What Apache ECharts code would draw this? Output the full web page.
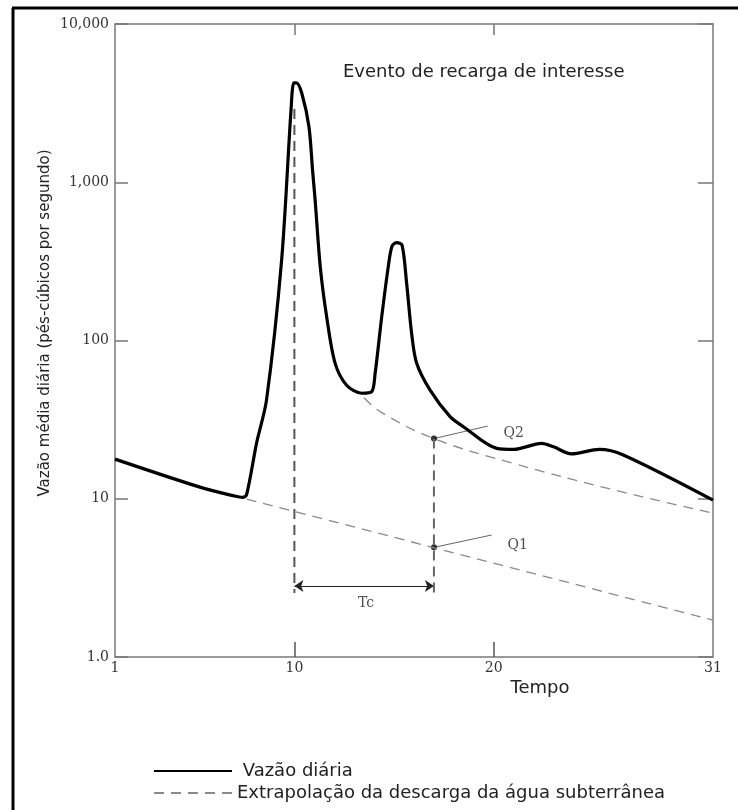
<!DOCTYPE html>
<html>
<head>
<meta charset="utf-8">
<script src="https://cdn.jsdelivr.net/npm/echarts@6/dist/echarts.min.js"></script>
<style>
  html, body { margin: 0; padding: 0; background: #fff; }
  #chart { width: 738px; height: 810px; }
</style>
</head>
<body>
<div id="chart"></div>
<script>
// hidrograma: vazão diária (pés-cúbicos/s) x tempo (dias)
const flowDays = [1, 5.3, 7.0, 7.4, 7.6, 8.1, 8.6, 9.36, 9.83, 9.97, 10.1, 10.37, 10.73, 10.91, 11.04, 11.3, 11.62, 12.04, 12.63, 13.38, 13.88, 14.05, 14.38, 14.71, 14.9, 15.13, 15.4, 15.63, 15.88, 16.13, 16.8, 17.81, 18.48, 20.15, 21.0, 22.4, 23.0, 23.9, 25.3, 26.5, 31];
const flowValues = [17.8, 11.8, 10.4, 10.2, 10.6, 22.4, 42, 323, 2860, 4250, 4250, 3650, 2245, 1195, 772, 290, 141, 72, 52, 46.4, 47.5, 62, 141, 293, 395, 415, 400, 230, 111, 72, 48.7, 33, 28.5, 20.8, 20.5, 22.4, 21.3, 19.2, 20.5, 18.9, 9.8];

// extrapolação da descarga subterrânea (antes do evento)
const baseDays = [7.6, 31];
const baseValues = [9.96, 1.71];

// extrapolação depois do evento
const recessDays = [13.5, 14.3, 17, 21, 26, 31];
const recessValues = [43.5, 35.5, 24, 16.7, 11.4, 8.1];

// pontos Q1, Q2 e linhas de referência
const markDay = 17;
const peakDay = 10;
const q1Value = 4.93;
const q2Value = 24;
const peakLineTop = 2900;
const guideBottom = 2.54;
const arrowValue = 2.81;

const xLabels = [1, 10, 20, 31];
const xTicks = [10, 20];

const SOLID_NAME = 'Vazão diária';
const DASH_NAME = 'Extrapolação da descarga da água subterrânea';

const pairs = (xs, ys) => xs.map((x, i) => [x, ys[i]]);

const fmtY = function (v) {
    if (v === 1) return '1.0';
    return String(Math.round(v)).replace(/\B(?=(\d{3})+(?!\d))/g, ',');
};

const chart = echarts.init(document.getElementById('chart'));

const axisLine = {lineStyle: {color: '#7a7a7a', width: 1.5}};
const serif = 'DejaVu Serif';
const sans = 'DejaVu Sans';
const dashGray = {color: '#8a8a8a', width: 1.3, type: [10, 7]};

const option = {
    animation: false,
    backgroundColor: '#fff',
    grid: {left: 115, right: 25, top: 24, bottom: 153},
    title: {
        text: 'Evento de recarga de interesse',
        left: 338,
        top: 58,
        textStyle: {fontFamily: sans, fontSize: 18, fontWeight: 'normal', color: '#222'}
    },
    legend: {
        orient: 'vertical',
        left: 153,
        top: 762,
        padding: 0,
        height: 48,
        itemWidth: 78,
        itemHeight: 12,
        itemGap: 4,
        data: [SOLID_NAME, DASH_NAME],
        itemStyle: {opacity: 0},
        formatter: name => (name === SOLID_NAME ? ' ' + name : name),
        textStyle: {fontFamily: sans, fontSize: 18, color: '#222'}
    },
    xAxis: [{
        type: 'value',
        min: 1,
        max: 31,
        axisLine: axisLine,
        splitLine: {show: false},
        axisTick: {inside: true, length: 15, customValues: xTicks, lineStyle: {color: '#555', width: 1.5}},
        axisLabel: {customValues: xLabels, margin: 4, fontFamily: serif, fontSize: 14, color: '#333'}
    }, {
        type: 'value',
        position: 'top',
        min: 1,
        max: 31,
        axisLine: axisLine,
        splitLine: {show: false},
        axisTick: {inside: true, length: 11, customValues: xTicks, lineStyle: {color: '#777', width: 1.5}},
        axisLabel: {show: false}
    }],
    yAxis: [{
        type: 'log',
        logBase: 10,
        min: 1,
        max: 10000,
        axisLine: {show: true, lineStyle: {color: '#7a7a7a', width: 1.5}},
        splitLine: {show: false},
        minorTick: {show: false},
        axisTick: {inside: true, length: 13, lineStyle: {color: '#777', width: 1.5}},
        axisLabel: {margin: 6, fontFamily: serif, fontSize: 14, color: '#333', formatter: fmtY}
    }, {
        type: 'log',
        logBase: 10,
        min: 1,
        max: 10000,
        position: 'right',
        axisLine: {show: true, lineStyle: {color: '#7a7a7a', width: 1.5}},
        splitLine: {show: false},
        axisTick: {inside: true, length: 15, lineStyle: {color: '#777', width: 1.5}},
        axisLabel: {show: false}
    }],
    graphic: [
        // moldura da figura
        {type: 'line', shape: {x1: 12, y1: 8, x2: 738, y2: 8}, style: {stroke: '#000', lineWidth: 3}},
        {type: 'line', shape: {x1: 13, y1: 8, x2: 13, y2: 810}, style: {stroke: '#000', lineWidth: 3}},
        {
            type: 'text', x: 45, y: 323, rotation: Math.PI / 2,
            style: {
                text: 'Vazão média diária (pés-cúbicos por segundo)',
                fontFamily: sans, fontSize: 15, fill: '#222',
                textAlign: 'center', textVerticalAlign: 'middle'
            }
        },
        {
            type: 'text', x: 540, y: 688,
            style: {
                text: 'Tempo', fontFamily: sans, fontSize: 18, fill: '#222',
                textAlign: 'center', textVerticalAlign: 'middle'
            }
        }
    ],
    series: [
        {
            name: DASH_NAME,
            type: 'line',
            data: pairs(baseDays, baseValues),
            showSymbol: false,
            symbol: 'none',
            lineStyle: dashGray,
            itemStyle: {color: '#8a8a8a'}
        },
        {
            name: DASH_NAME,
            type: 'line',
            data: pairs(recessDays, recessValues),
            smooth: 0.4,
            showSymbol: false,
            symbol: 'none',
            lineStyle: dashGray,
            itemStyle: {color: '#8a8a8a'}
        },
        {
            name: 'guia',
            type: 'line',
            data: [[peakDay, peakLineTop], [peakDay, guideBottom]],
            symbol: 'none',
            lineStyle: {color: '#555', width: 2, type: [10, 6]}
        },
        {
            name: 'guia2',
            type: 'line',
            data: [[markDay, q2Value], [markDay, guideBottom]],
            symbol: 'none',
            lineStyle: {color: '#666', width: 2, type: [10, 6]}
        },
        {
            name: SOLID_NAME,
            type: 'line',
            data: pairs(flowDays, flowValues),
            smooth: 0.3,
            showSymbol: false,
            symbol: 'none',
            lineStyle: {color: '#000', width: 3.2},
            itemStyle: {color: '#000'}
        },
        {
            name: 'lider',
            type: 'lines',
            coordinateSystem: 'cartesian2d',
            lineStyle: {color: '#666', width: 1, opacity: 1},
            data: [
                {coords: [[markDay, q2Value], [19.7, 28.8]]},
                {coords: [[markDay, q1Value], [19.9, 5.9]]}
            ]
        },
        {
            name: 'tc',
            type: 'lines',
            coordinateSystem: 'cartesian2d',
            symbol: ['arrow', 'arrow'],
            symbolSize: 9,
            lineStyle: {color: '#222', width: 1.2, opacity: 1},
            data: [{coords: [[peakDay, arrowValue], [markDay, arrowValue]]}]
        },
        {
            name: 'pontos',
            type: 'scatter',
            symbolSize: 6,
            itemStyle: {color: '#000'},
            data: [[markDay, q2Value], [markDay, q1Value]]
        },
        {
            name: 'rotulos',
            type: 'scatter',
            symbolSize: 0,
            label: {
                show: true,
                position: 'inside',
                fontFamily: serif,
                fontSize: 14,
                color: '#222',
                formatter: p => p.data.text
            },
            data: [
                {value: [21.0, 26], text: 'Q2'},
                {value: [21.2, 5.1], text: 'Q1'},
                {value: [13.6, 2.18], text: 'Tc'}
            ]
        }
    ]
};

chart.setOption(option);
</script>
</body>
</html>
